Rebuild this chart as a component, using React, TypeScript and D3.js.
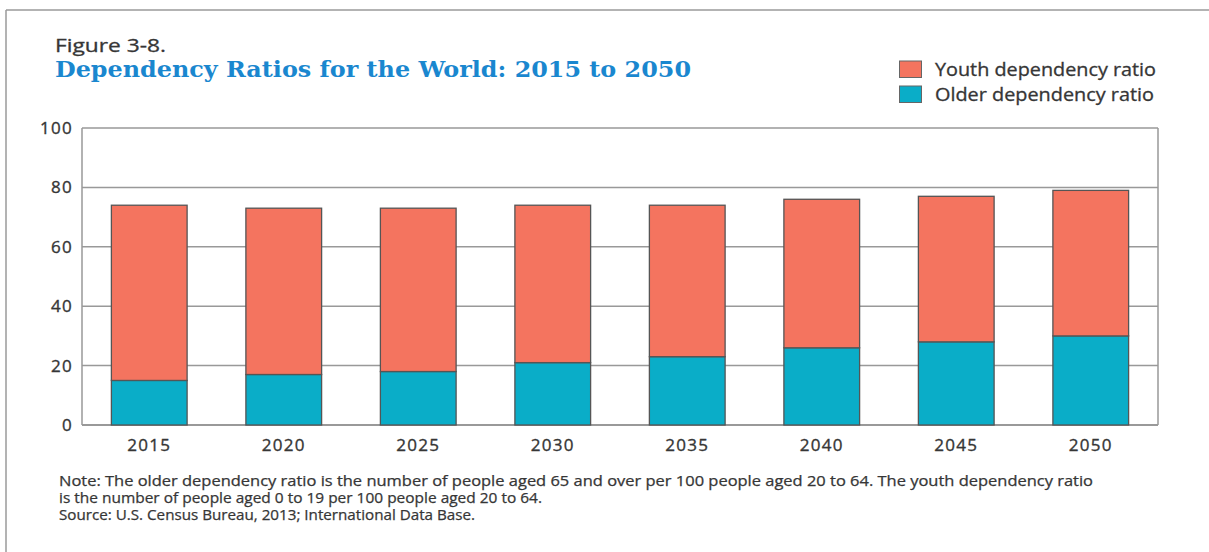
import React from "react";
import * as d3 from "d3";

const years = ["2015", "2020", "2025", "2030", "2035", "2040", "2045", "2050"];
const olderRatio = [15, 17, 18, 21, 23, 26, 28, 30];
const youthRatio = [59, 56, 55, 53, 51, 50, 49, 49];
const yTicks = [0, 20, 40, 60, 80, 100];
const seriesNames = ["Youth dependency ratio", "Older dependency ratio"];
const noteLines = [
  "Note: The older dependency ratio is the number of people aged 65 and over per 100 people aged 20 to 64. The youth dependency ratio",
  "is the number of people aged 0 to 19 per 100 people aged 20 to 64.",
  "Source: U.S. Census Bureau, 2013; International Data Base.",
];

const W = 1209;
const H = 552;
const plot = { left: 82, right: 1158, top: 128, bottom: 425 };
const YOUTH = "#F4745F";
const OLDER = "#0AADC8";
const SANS = "'Open Sans', 'DejaVu Sans', sans-serif";
const TXT = "#363636";

export default function App() {
  const x = d3
    .scaleBand<string>()
    .domain(years)
    .range([plot.left, plot.right])
    .paddingInner(0.437)
    .paddingOuter(0.2185);
  const y = d3.scaleLinear().domain([0, 100]).range([plot.bottom, plot.top]);

  const data = years.map((yr, i) => ({ year: yr, older: olderRatio[i], youth: youthRatio[i] }));
  const stacked = d3.stack<any>().keys(["older", "youth"])(data);
  const colors: Record<string, string> = { older: OLDER, youth: YOUTH };

  const noteLens = [1034, 483, 416];

  return (
    <svg
      width={W}
      height={H}
      style={{ position: "absolute", left: 0, top: 0, background: "#fff" }}
      fontFamily={SANS}
    >
      <rect x={0} y={0} width={W} height={H} fill="#fff" />
      {/* frame */}
      <line x1={6} x2={W} y1={10} y2={10} stroke="#9a9a9a" strokeWidth={1.5} />
      <line x1={6} x2={6} y1={10} y2={H} stroke="#9a9a9a" strokeWidth={1.5} />

      {/* titles */}
      <text
        x={55}
        y={52}
        fontSize={18}
        fill={TXT}
        stroke={TXT}
        strokeWidth={0.3}
        textLength={111}
        lengthAdjust="spacingAndGlyphs"
      >
        Figure 3-8.
      </text>
      <text
        x={55}
        y={77}
        fontSize={21.5}
        fontWeight="bold"
        fill="#1A87CF"
        fontFamily="'DejaVu Serif', serif"
        textLength={636}
        lengthAdjust="spacingAndGlyphs"
      >
        Dependency Ratios for the World: 2015 to 2050
      </text>

      {/* legend */}
      {seriesNames.map((name, i) => (
        <g key={name}>
          <rect
            x={899.5}
            y={61 + i * 25}
            width={22}
            height={16.5}
            fill={i === 0 ? YOUTH : OLDER}
            stroke="#666"
            strokeWidth={1}
          />
          <text
            x={935}
            y={76 + i * 25}
            fontSize={17.5}
            fill={TXT}
            stroke={TXT}
            strokeWidth={0.3}
            textLength={i === 0 ? 221 : 219}
            lengthAdjust="spacingAndGlyphs"
          >
            {name}
          </text>
        </g>
      ))}

      {/* gridlines */}
      {yTicks.map((t) => (
        <line
          key={t}
          x1={plot.left}
          x2={plot.right}
          y1={y(t)}
          y2={y(t)}
          stroke={t === 0 ? "#777" : "#999"}
          strokeWidth={1.5}
        />
      ))}
      <line x1={plot.left} x2={plot.left} y1={plot.top} y2={plot.bottom} stroke="#999" strokeWidth={1.5} />
      <line x1={plot.right} x2={plot.right} y1={plot.top} y2={plot.bottom} stroke="#999" strokeWidth={1.5} />

      {/* y tick labels */}
      {yTicks.map((t) => (
        <text
          key={t}
          x={73}
          y={y(t) + 6}
          fontSize={17}
          fill={TXT}
          stroke={TXT}
          strokeWidth={0.35}
          textAnchor="end"
          letterSpacing={1.3}
        >
          {t}
        </text>
      ))}

      {/* bars */}
      {stacked.map((layer) => (
        <g key={layer.key} fill={colors[layer.key]}>
          {layer.map((d: any) => (
            <rect
              key={d.data.year}
              x={x(d.data.year)}
              y={y(d[1])}
              width={x.bandwidth()}
              height={y(d[0]) - y(d[1])}
              stroke="#555"
              strokeWidth={1.3}
            />
          ))}
        </g>
      ))}

      {/* x labels */}
      {years.map((yr) => (
        <text
          key={yr}
          x={(x(yr) as number) + x.bandwidth() / 2}
          y={451}
          fontSize={17}
          fill={TXT}
          stroke={TXT}
          strokeWidth={0.35}
          textAnchor="middle"
          letterSpacing={1.3}
        >
          {yr}
        </text>
      ))}

      {/* notes */}
      {noteLines.map((line, i) => (
        <text
          key={i}
          x={59}
          y={486 + i * 17}
          fontSize={14}
          fill={TXT}
          stroke={TXT}
          strokeWidth={0.25}
          textLength={noteLens[i]}
          lengthAdjust="spacingAndGlyphs"
        >
          {line}
        </text>
      ))}
    </svg>
  );
}
